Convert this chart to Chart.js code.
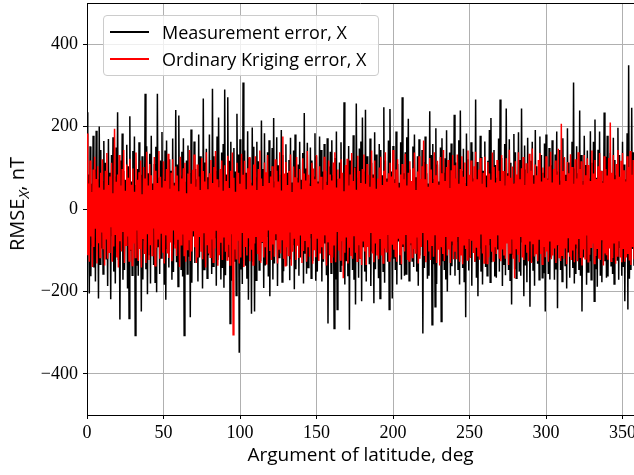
<!DOCTYPE html>
<html>
<head>
<meta charset="utf-8">
<script src="https://cdn.jsdelivr.net/npm/chart.js@4.4.1/dist/chart.umd.min.js"></script>
<style>
  body { margin: 0; background: #fff; }
  #wrap { position: relative; width: 634px; height: 475px; overflow: hidden; }
  #ytitle {
    position: absolute; left: 18px; top: 204px;
    transform: translate(-50%, -50%) rotate(-90deg);
    font: 20px 'Open Sans'; white-space: nowrap; color: #000;
  }
  #ytitle sub { font-size: 15px; }
  #legend {
    position: absolute; left: 103px; top: 15px; width: 276px; height: 61px;
    border: 1px solid #cccccc; border-radius: 4px; box-sizing: border-box;
    background: rgba(255, 255, 255, 0.8); font: 18px 'Open Sans'; color: #000;
  }
  .item { position: absolute; left: 0; height: 22px; display: flex; align-items: center; white-space: nowrap; }
  .swatch { width: 39px; height: 2px; margin-left: 6px; margin-right: 13px; }
</style>
</head>
<body>
<div id="wrap">
  <canvas id="chart" width="634" height="475"></canvas>
  <div id="ytitle">RMSE<sub><i>X</i></sub>, nT</div>
  <div id="legend"></div>
</div>
<script>
// Argument of latitude, deg: one upper and one lower sample per degree
const argLat = Array.from({ length: 358 }, (_, i) => i);

// Measurement error, X (nT) - positive swings, at each degree
const measUpper = [
  235,84,152,61,178,96,190,72,200,143,
  68,165,112,57,170,88,131,174,79,149,
  235,63,118,183,92,71,156,104,225,67,
  141,176,58,97,162,83,128,69,280,152,
  87,134,178,62,109,151,280,76,118,187,
  73,142,166,59,121,93,171,64,240,108,
  227,81,139,172,66,118,154,87,193,61,
  164,97,72,181,128,58,268,113,146,77,
  181,63,292,128,92,176,222,69,137,158,
  290,84,271,117,163,72,148,91,231,132,
  169,71,307,142,88,189,123,64,198,151,
  78,163,116,59,215,97,184,72,138,167,
  92,148,221,67,174,106,83,192,131,62,
  157,88,119,173,64,142,181,76,108,163,
  71,136,233,98,161,62,149,118,79,184,
  128,67,176,143,91,158,66,172,103,139,
  167,82,124,188,73,113,162,69,259,97,
  84,153,118,67,179,102,256,76,147,164,
  222,91,241,128,63,171,112,84,186,132,
  69,158,143,82,247,118,74,166,243,91,
  153,72,188,109,64,162,271,87,138,174,
  219,96,68,152,181,77,128,169,62,143,
  114,176,87,62,237,131,158,73,196,108,
  67,149,172,88,123,191,64,137,159,82,
  229,113,71,167,239,92,146,63,183,121,
  78,162,139,74,266,114,68,178,126,93,
  164,81,117,192,221,68,143,107,76,171,
  266,124,73,158,244,87,169,112,63,182,
  138,71,186,119,244,68,154,96,173,79,
  117,163,82,192,104,67,176,131,88,159,
  181,74,148,106,167,62,132,188,91,143,
  69,172,124,83,196,113,71,163,307,98,
  152,87,239,131,68,178,107,142,74,189,
  112,163,217,76,144,188,93,68,234,127,
  178,92,136,64,173,119,82,197,131,71,
  163,108,72,184,349,96,246,138
];

// Measurement error, X (nT) - negative swings, half a degree later
const measLower = [
  -78,-205,-163,-91,-142,-176,-68,-217,-134,-96,
  -158,-73,-121,-187,-94,-219,-66,-152,-181,-87,
  -124,-268,-71,-172,-148,-83,-193,-266,-102,-161,
  -69,-307,-138,-162,-88,-249,-171,-77,-146,-207,
  -112,-181,-64,-136,-178,-202,-91,-158,-119,-71,
  -184,-220,-97,-142,-68,-172,-153,-86,-129,-188,
  -73,-146,-164,-307,-92,-158,-116,-263,-179,-67,
  -131,-84,-176,-118,-62,-193,-147,-78,-168,-112,
  -92,-158,-139,-71,-186,-124,-67,-171,-143,-191,
  -161,-83,-117,-278,-174,-96,-128,-210,-69,-349,
  -147,-182,-72,-138,-169,-220,-91,-254,-126,-249,
  -173,-64,-148,-127,-81,-192,-137,-68,-164,-212,
  -86,-171,-132,-76,-187,-118,-67,-177,-151,-93,
  -138,-64,-173,-122,-88,-195,-146,-73,-162,-118,
  -69,-181,-107,-157,-142,-71,-168,-126,-83,-174,
  -152,-97,-66,-176,-128,-84,-161,-278,-112,-156,
  -84,-290,-171,-244,-96,-151,-138,-68,-183,-127,
  -163,-293,-87,-148,-172,-232,-74,-167,-119,-224,
  -91,-152,-176,-68,-134,-187,-103,-229,-146,-72,
  -168,-217,-94,-151,-179,-86,-128,-244,-63,-217,
  -121,-148,-183,-79,-136,-171,-92,-162,-158,-67,
  -174,-88,-126,-141,-67,-152,-186,-113,-78,-302,
  -143,-71,-169,-162,-98,-281,-134,-237,-182,-76,
  -94,-273,-127,-148,-171,-200,-68,-161,-139,-88,
  -162,-79,-146,-183,-92,-143,-176,-263,-71,-149,
  -118,-186,-74,-128,-167,-212,-96,-152,-183,-69,
  -141,-162,-88,-178,-129,-73,-164,-167,-98,-152,
  -76,-187,-136,-161,-68,-148,-173,-232,-109,-146,
  -168,-93,-152,-162,-81,-212,-137,-178,-66,-237,
  -128,-148,-186,-74,-133,-172,-91,-167,-156,-249,
  -84,-158,-171,-118,-63,-172,-147,-241,-88,-148,
  -176,-72,-137,-193,-104,-167,-68,-143,-181,-158,
  -96,-148,-162,-249,-118,-71,-184,-153,-127,-172,
  -73,-224,-146,-189,-112,-162,-178,-81,-127,-167,
  -164,-88,-138,-158,-182,-76,-124,-172,-93,-162,
  -141,-224,-86,-244,-169,-148,-97,-138
];

// Ordinary Kriging error, X (nT) - positive swings
const krigUpper = [
  183,62,118,41,96,127,73,104,52,88,
  121,47,93,136,58,79,112,38,195,66,
  84,131,57,97,143,44,108,76,122,59,
  98,42,137,71,89,118,36,102,74,139,
  57,109,82,46,126,93,63,141,78,52,
  116,68,97,134,49,88,121,57,103,81,
  43,127,74,99,112,38,86,143,61,95,
  132,54,108,79,46,124,92,67,138,48,
  87,119,63,102,141,72,53,97,118,44,
  106,68,129,51,93,137,76,42,112,88,
  61,134,83,117,48,99,126,71,57,108,
  128,46,97,142,74,56,113,89,131,63,
  79,104,52,121,93,67,138,45,176,86,
  114,58,92,132,41,103,77,126,64,97,
  48,123,86,69,141,83,56,112,98,72,
  131,62,104,78,47,127,93,58,118,84,
  69,113,138,52,96,74,121,88,43,107,
  122,57,84,136,68,101,47,129,92,63,
  97,132,61,109,83,54,142,76,118,49,
  74,101,127,58,93,138,66,87,112,79,
  143,63,96,121,52,84,109,72,134,57,
  88,116,68,99,137,46,91,128,73,104,
  166,72,109,54,124,96,63,138,82,117,
  59,126,87,143,68,102,119,51,94,131,
  106,74,132,61,97,128,78,113,56,142,
  83,118,67,104,139,72,96,124,61,88,
  127,53,114,86,71,137,102,64,119,93,
  68,131,92,57,123,81,144,76,103,62,
  116,84,138,72,99,126,58,111,87,134,
  93,147,61,108,82,119,136,67,101,76,
  128,71,103,139,64,97,118,83,146,59,
  207,92,126,68,114,87,133,102,61,121,
  74,138,97,116,59,131,82,123,107,68,
  142,86,119,73,104,136,92,63,128,97,
  81,124,210,88,131,72,109,143,78,117,
  136,94,67,128,102,141,83,119
];

// Ordinary Kriging error, X (nT) - negative swings
const krigLower = [
  -112,-128,-67,-141,-92,-48,-132,-83,-118,-57,
  -96,-137,-72,-121,-105,-44,-128,-91,-63,-118,
  -142,-78,-103,-56,-131,-88,-67,-126,-99,-137,
  -84,-118,-52,-126,-97,-142,-73,-109,-131,-61,
  -124,-88,-113,-47,-138,-94,-72,-121,-58,-106,
  -132,-64,-108,-119,-81,-127,-52,-96,-114,-73,
  -141,-87,-62,-113,-128,-98,-76,-126,-103,-54,
  -93,-131,-118,-68,-104,-122,-57,-142,-86,-108,
  -117,-74,-129,-96,-53,-138,-112,-82,-124,-69,
  -104,-124,-87,-136,-61,-305,-98,-121,-77,-132,
  -118,-58,-141,-92,-113,-71,-127,-99,-136,-84,
  -66,-109,-124,-131,-78,-118,-93,-135,-52,-102,
  -124,-86,-116,-61,-132,-97,-108,-74,-121,-138,
  -93,-113,-57,-138,-104,-72,-124,-89,-119,-64,
  -131,-102,-76,-128,-91,-116,-59,-133,-98,-117,
  -72,-126,-108,-93,-122,-64,-137,-81,-111,-129,
  -118,-87,-129,-54,-101,-124,-78,-168,-106,-69,
  -132,-94,-114,-121,-66,-106,-127,-88,-119,-136,
  -77,-103,-136,-92,-117,-58,-108,-129,-84,-113,
  -122,-71,-113,-131,-96,-104,-63,-126,-118,-87,
  -99,-117,-128,-72,-112,-134,-86,-103,-61,-124,
  -126,-83,-118,-97,-107,-69,-132,-121,-92,-58,
  -114,-129,-76,-103,-124,-88,-116,-62,-131,-97,
  -137,-91,-109,-126,-68,-113,-98,-131,-79,-122,
  -104,-122,-66,-128,-111,-134,-87,-97,-124,-73,
  -119,-77,-107,-128,-94,-115,-123,-62,-108,-131,
  -88,-132,-117,-71,-104,-126,-93,-109,-64,-121,
  -127,-98,-113,-121,-82,-136,-107,-74,-119,-168,
  -96,-111,-129,-68,-118,-124,-87,-106,-127,-79,
  -131,-84,-115,-108,-127,-73,-109,-134,-92,-117,
  -103,-128,-79,-122,-113,-96,-131,-88,-118,-126,
  -112,-121,-94,-134,-69,-116,-124,-101,-129,-86,
  -127,-73,-119,-137,-98,-121,-64,-128,-111,-93,
  -84,-132,-114,-97,-121,-124,-76,-137,-108,-112,
  -123,-96,-127,-119,-82,-133,-114,-78,-116,-129,
  -97,-128,-118,-109,-125,-136,-92,-122
];

const xTicks = [0, 50, 100, 150, 200, 250, 300, 350];
const yTicks = [-400, -200, 0, 200, 400];

const seriesNames = ['Measurement error, X', 'Ordinary Kriging error, X'];
const seriesColors = ['#000000', '#ff0000'];

// upper swing at the degree, lower swing half a degree later
const interleave = (up, lo) =>
  up.flatMap((v, k) => [{ x: argLat[k], y: v }, { x: argLat[k] + 0.5, y: lo[k] }]);

// top spine (matplotlib box)
const frame = {
  id: 'frame',
  afterDraw(chart) {
    const { ctx, chartArea } = chart;
    ctx.save();
    ctx.strokeStyle = '#000';
    ctx.lineWidth = 1;
    ctx.beginPath();
    ctx.moveTo(chartArea.left, chartArea.top + 0.5);
    ctx.lineTo(chartArea.right, chartArea.top + 0.5);
    ctx.stroke();
    ctx.restore();
  }
};

const tickFont = { family: 'Liberation Serif', size: 18 };

new Chart(document.getElementById('chart'), {
  type: 'line',
  data: {
    datasets: [
      {
        label: seriesNames[0],
        data: interleave(measUpper, measLower),
        borderColor: seriesColors[0],
        borderWidth: 1.5,
        pointRadius: 0,
        order: 2
      },
      {
        label: seriesNames[1],
        data: interleave(krigUpper, krigLower),
        borderColor: seriesColors[1],
        borderWidth: 1.5,
        pointRadius: 0,
        order: 1
      }
    ]
  },
  options: {
    responsive: false,
    animation: false,
    layout: { padding: { top: 3, left: 0, right: 0, bottom: 0 } },
    plugins: { legend: { display: false }, tooltip: { enabled: false } },
    scales: {
      x: {
        type: 'linear',
        min: 0,
        max: 357.5,
        afterBuildTicks: (s) => { s.ticks = xTicks.map(v => ({ value: v })); },
        afterFit: (s) => { s.height = 60; s.paddingLeft = 0; s.paddingRight = 0; },
        ticks: { color: '#000', font: tickFont, padding: 3, maxRotation: 0 },
        grid: { color: '#b0b0b0', lineWidth: 1, tickLength: 4, tickColor: '#000' },
        border: { color: '#000', width: 1 },
        title: {
          display: true,
          text: 'Argument of latitude, deg',
          color: '#000',
          font: { family: 'Open Sans', size: 19 },
          padding: { top: 0, bottom: 8 }
        }
      },
      y: {
        min: -500,
        max: 500,
        afterBuildTicks: (s) => { s.ticks = yTicks.map(v => ({ value: v })); },
        afterFit: (s) => { s.width = 87; s.paddingTop = 0; s.paddingBottom = 0; },
        ticks: {
          color: '#000', font: tickFont, padding: 5,
          callback: (v) => v < 0 ? '\u2212' + Math.abs(v) : String(v)
        },
        grid: { color: '#b0b0b0', lineWidth: 1, tickLength: 4, tickColor: '#000' },
        border: { color: '#000', width: 1 }
      }
    }
  },
  plugins: [frame]
});

// legend box inside the plot, upper left
const legend = document.getElementById('legend');
seriesNames.forEach((name, i) => {
  const item = document.createElement('div');
  item.className = 'item';
  item.style.top = (5 + i * 27) + 'px';
  item.innerHTML = '<span class="swatch" style="background:' + seriesColors[i] + '"></span>' + name;
  legend.appendChild(item);
});
</script>
</body>
</html>
